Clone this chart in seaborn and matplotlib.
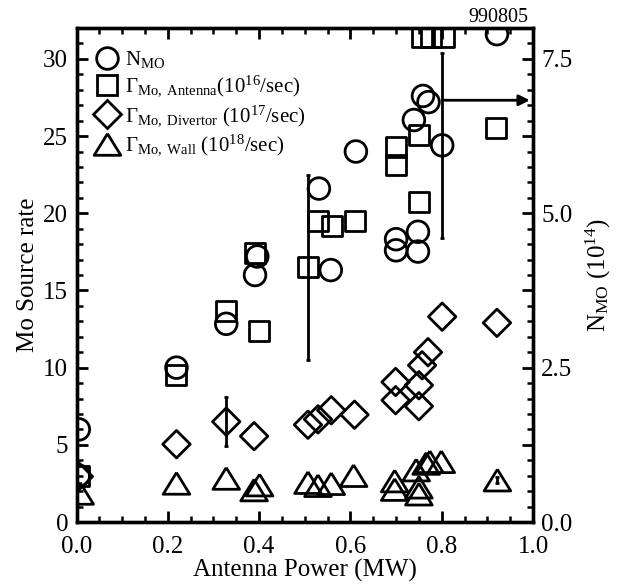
import numpy as np
import pandas as pd
import matplotlib
matplotlib.use("Agg")
import matplotlib.pyplot as plt
import seaborn as sns
from matplotlib.lines import Line2D
from matplotlib.ticker import MultipleLocator, FixedLocator, FuncFormatter

# ---------------- data ----------------
# N_MO (units of 1e14, right axis)
nmo_power = [0.005, 0.005, 0.219, 0.328, 0.391, 0.396, 0.531, 0.557, 0.612,
             0.700, 0.700, 0.739, 0.748, 0.748, 0.759, 0.771, 0.801, 0.921]
nmo_value = [1.50, 0.75, 2.50, 3.21, 4.00, 4.30, 5.40, 4.08, 6.00,
             4.58, 4.40, 6.51, 4.70, 4.38, 6.90, 6.80, 6.10, 7.90]

# Gamma Mo, Antenna (1e16/sec)
ant_power = [0.005, 0.219, 0.328, 0.391, 0.399, 0.507, 0.529, 0.560, 0.609,
             0.699, 0.699, 0.750, 0.750, 0.757, 0.777, 0.805, 0.919]
ant_rate = [3.0, 9.5, 13.7, 17.4, 12.4, 16.5, 19.5, 19.2, 19.5,
            24.3, 23.1, 25.1, 20.7, 31.4, 31.4, 31.4, 25.5]

# Gamma Mo, Divertor (1e17/sec)
div_power = [0.005, 0.219, 0.328, 0.389, 0.507, 0.529, 0.558, 0.609,
             0.699, 0.699, 0.750, 0.750, 0.757, 0.770, 0.801, 0.921]
div_rate = [2.95, 5.04, 6.5, 5.56, 6.3, 6.65, 7.24, 6.95,
            9.07, 7.89, 8.86, 7.5, 10.15, 11.0, 13.3, 12.9]

# Gamma Mo, Wall (1e18/sec)
wall_power = [0.008, 0.219, 0.328, 0.389, 0.401, 0.507, 0.529, 0.558, 0.607,
              0.697, 0.697, 0.744, 0.766, 0.774, 0.799, 0.750, 0.750, 0.922]
wall_rate = [1.85, 2.5, 2.82, 2.07, 2.39, 2.55, 2.35, 2.48, 3.0,
             2.65, 2.1, 3.36, 3.79, 3.9, 3.9, 2.25, 1.8, 2.71]

# representative error bars
div_err_x, div_err_y, div_err = [0.328], [6.5], [1.6]
ant_err_x, ant_err_y, ant_err = [0.507], [16.5], [6.0]
nmo_err_x, nmo_err_y, nmo_err = [0.801], [6.10], [1.5]
wall_err_x, wall_err_y, wall_err = [0.922], [2.71], [0.2]
arrow_y = 6.83  # N_MO units

legend_labels = [
    "N$_{\\rm MO}$",
    "Γ$_{\\rm Mo,\\ Antenna}$(10$^{16}$/sec)",
    "Γ$_{\\rm Mo,\\ Divertor}$ (10$^{17}$/sec)",
    "Γ$_{\\rm Mo,\\ Wall}$ (10$^{18}$/sec)",
]

# ---------------- style ----------------
sns.set_style("ticks")
plt.rcParams["font.family"] = ["Liberation Serif", "DejaVu Serif"]
plt.rcParams["mathtext.fontset"] = "custom"
plt.rcParams["mathtext.rm"] = "Liberation Serif"
plt.rcParams["mathtext.it"] = "Liberation Serif:italic"
plt.rcParams["mathtext.bf"] = "Liberation Serif:bold"
for k in ["text.color", "axes.labelcolor", "xtick.color", "ytick.color", "axes.edgecolor"]:
    plt.rcParams[k] = "black"

fig = plt.figure(figsize=(6.18, 5.87), dpi=100)
ax = fig.add_axes([0.1238, 0.1107, 0.7387, 0.8416])
ax2 = ax.twinx()

LW = 2.0
tri = [(0.0, 0.81), (-1.0, -0.81), (1.0, -0.81), (0.0, 0.81)]
common = dict(facecolors="none", edgecolor="black", linewidth=LW, legend=False, zorder=3)

sns.scatterplot(x=ant_power, y=ant_rate, marker="s", s=14.4**2, ax=ax, **common)
sns.scatterplot(x=div_power, y=div_rate, marker="D", s=14.0**2, ax=ax, **common)
sns.scatterplot(x=wall_power, y=wall_rate, marker=tri, s=19.2**2, ax=ax, **common)
sns.scatterplot(x=nmo_power, y=nmo_value, marker="o", s=15.6**2, ax=ax2, **common)

eb = dict(fmt="none", ecolor="black", elinewidth=LW, capsize=1.5, capthick=LW, zorder=4)
ax.errorbar(div_err_x, div_err_y, yerr=div_err, **eb)
ax.errorbar(ant_err_x, ant_err_y, yerr=ant_err, **eb)
ax.errorbar(wall_err_x, wall_err_y, yerr=wall_err, **eb)
ax2.errorbar(nmo_err_x, nmo_err_y, yerr=nmo_err, **eb)
ax2.annotate("", xy=(0.993, arrow_y), xytext=(nmo_err_x[0], arrow_y),
             arrowprops=dict(arrowstyle="-|>", lw=LW, color="black", mutation_scale=16,
                             shrinkA=0, shrinkB=0))

# axes ranges / ticks
ax.set_xlim(0, 1.0)
ax.set_ylim(0, 32)
ax2.set_ylim(0, 8)
ax.xaxis.set_major_locator(MultipleLocator(0.2))
ax.xaxis.set_minor_locator(MultipleLocator(0.05))
ax.yaxis.set_major_locator(MultipleLocator(5))
ax.yaxis.set_minor_locator(MultipleLocator(1))
ax.xaxis.set_major_formatter(FuncFormatter(lambda v, p: f"{v:.1f}"))
ax.yaxis.set_major_formatter(FuncFormatter(lambda v, p: f"{v:.0f}"))
ax2.yaxis.set_major_locator(MultipleLocator(1.25))
ax2.yaxis.set_minor_locator(MultipleLocator(0.25))
ax2.yaxis.set_major_formatter(FuncFormatter(
    lambda v, p: f"{v:.1f}" if abs(v / 2.5 - round(v / 2.5)) < 1e-6 else ""))

for a in (ax, ax2):
    for s in a.spines.values():
        s.set_linewidth(2.4)
        s.set_color("black")
        s.set_visible(True)
ax.tick_params(which="both", direction="in", top=True, right=False, labelsize=18,
               width=2.0, color="black", labelcolor="black")
ax.tick_params(axis="x", which="major", length=8, pad=10)
ax.tick_params(axis="y", which="major", length=8, pad=6)
ax.tick_params(which="minor", length=4.5, width=1.8)
ax2.tick_params(which="both", direction="in", labelsize=18, width=2.0,
                color="black", labelcolor="black")
ax2.tick_params(which="major", length=8, pad=6)
ax2.tick_params(which="minor", length=4.5, width=1.8)

ax.set_xlabel("Antenna Power (MW)", fontsize=18, labelpad=1, color="black")
ax.set_ylabel("Mo Source rate", fontsize=18, labelpad=3, color="black")
ax2.set_ylabel("N$_{\\rm MO}$ (10$^{14}$)", fontsize=18, labelpad=8, color="black")

ax.text(0.99, 1.012, "990805", transform=ax.transAxes, ha="right", va="baseline",
        fontsize=14.5, color="black")

# legend
handles = [
    Line2D([], [], ls="none", marker="o", markersize=15.6, mfc="none", mec="black", mew=LW),
    Line2D([], [], ls="none", marker="s", markersize=14.4, mfc="none", mec="black", mew=LW),
    Line2D([], [], ls="none", marker="D", markersize=14.0, mfc="none", mec="black", mew=LW),
    Line2D([], [], ls="none", marker=tri, markersize=19.2, mfc="none", mec="black", mew=LW),
]
leg = ax.legend(handles, legend_labels, loc="upper left", bbox_to_anchor=(0.044, 0.957),
                frameon=False, fontsize=15, handlelength=1.0, handletextpad=0.35,
                labelspacing=0.2, borderpad=0, borderaxespad=0)
for t in leg.get_texts():
    t.set_color("black")
leg.set_zorder(5)

fig.savefig("out.png", dpi=100)
